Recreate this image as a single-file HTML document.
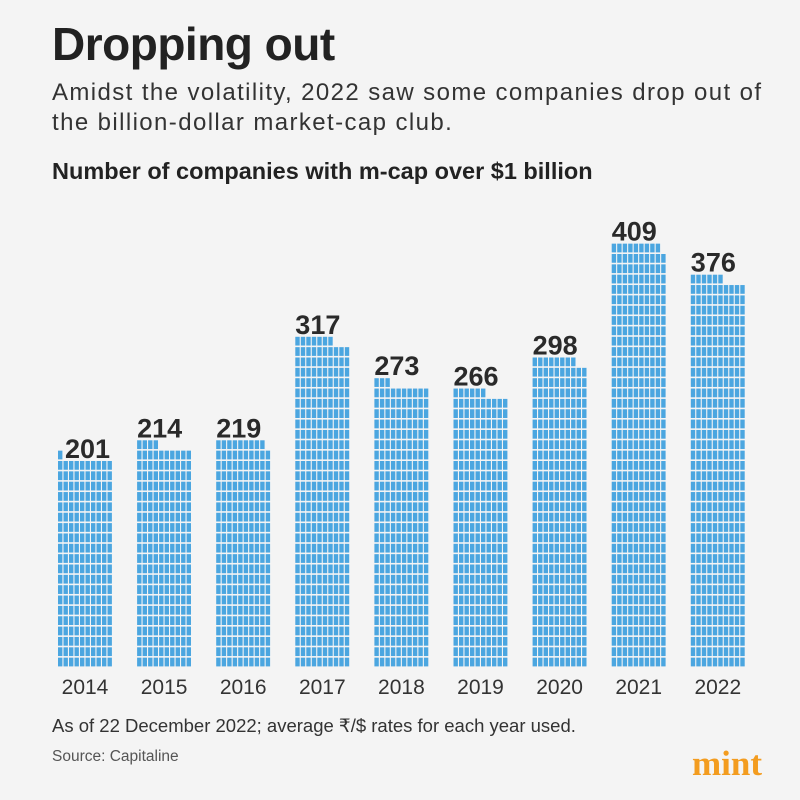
<!DOCTYPE html>
<html><head><meta charset="utf-8"><style>
body{margin:0;width:800px;height:800px;background:#f4f4f4;font-family:"Liberation Sans",sans-serif;overflow:hidden;position:relative}
.t{position:absolute;left:52px;top:17px;font-size:46px;font-weight:bold;color:#222;letter-spacing:-0.5px}
.s{position:absolute;left:52px;top:78px;font-size:24px;letter-spacing:1.4px;color:#333;line-height:30px;width:760px;white-space:nowrap}
.h{position:absolute;left:52px;top:158px;font-size:23.5px;font-weight:bold;color:#222}
.n{position:absolute;left:52px;top:715px;font-size:18.5px;color:#333}
.src{position:absolute;left:52px;top:748px;font-size:15.5px;color:#555}
.logo{position:absolute;left:692px;top:744px;font-size:35px;font-weight:bold;color:#f39c1f;font-family:"Liberation Serif",serif}
</style></head><body>
<div class="t">Dropping out</div>
<div class="s">Amidst the volatility, 2022 saw some companies drop out of<br>the billion-dollar market-cap club.</div>
<div class="h">Number of companies with m-cap over $1 billion</div>
<svg id="c" width="800" height="800" style="position:absolute;left:0;top:0"></svg>
<div class="n">As of 22 December 2022; average ₹/$ rates for each year used.</div>
<div class="src">Source: Capitaline</div>
<div class="logo">mint</div>
<script>
const years=["2014","2015","2016","2017","2018","2019","2020","2021","2022"];
const values=[201,214,219,317,273,266,298,409,376];
const svg=document.getElementById('c');const NS='http://www.w3.org/2000/svg';
const x0=58,step=79.1,cw=5.5,rh=10.35,base=668;
function bx(i){return x0+i*step;}
function ry(r){return base-(r+1)*rh;}
years.forEach((y,i)=>{
  const v=values[i];const g=document.createElementNS(NS,'g');
  
  
  for(let k=0;k<v;k++){const r=Math.floor(k/10),c=k%10;
    const re=document.createElementNS(NS,'rect');
    re.setAttribute('x',bx(i)+c*cw);re.setAttribute('y',ry(r));
    re.setAttribute('width',cw-1.1);re.setAttribute('height',rh-1.6);
    re.setAttribute('fill','#4ba6e0');g.appendChild(re);}
  svg.appendChild(g);
  const rows=Math.ceil(v/10),rem=v%10;
  const t=document.createElementNS(NS,'text');
  
  
  t.setAttribute('x',bx(i)+(rem>0&&rem<=2?7:0));
  t.setAttribute('y',(rem>0&&rem<=2?ry(rows-2):ry(rows-1))-3);
  t.setAttribute('font-size','27');t.setAttribute('font-weight','bold');t.setAttribute('fill','#2a2a2a');
  t.setAttribute('font-family','Liberation Sans, sans-serif');
  t.textContent=v;svg.appendChild(t);
  const yl=document.createElementNS(NS,'text');
  
  
  yl.setAttribute('x',bx(i)+27);yl.setAttribute('y',694);yl.setAttribute('text-anchor','middle');
  yl.setAttribute('font-size','21');yl.setAttribute('fill','#333');
  yl.setAttribute('font-family','Liberation Sans, sans-serif');
  yl.textContent=y;svg.appendChild(yl);
});
</script>
</body></html>
